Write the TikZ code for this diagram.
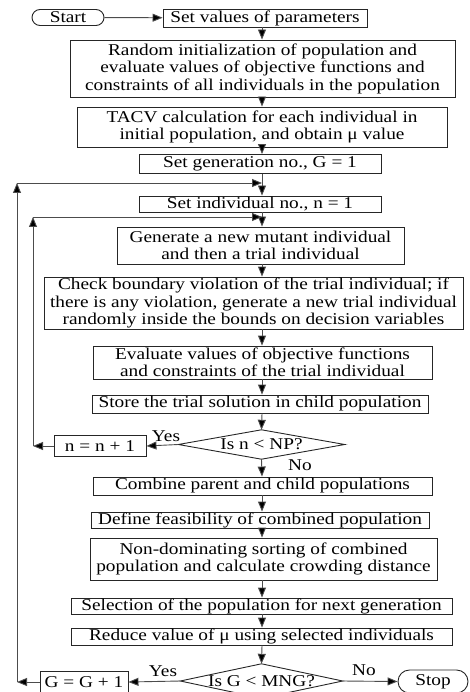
\documentclass[tikz,border=0pt]{standalone}
\usepackage{fontspec}
\setmainfont{Liberation Serif}[FakeStretch=1.17]
\usetikzlibrary{arrows.meta,shapes.misc}
\begin{document}
\begin{tikzpicture}[x=1pt,y=-1pt,
  every node/.style={font=\fontsize{16.5}{17.5}\selectfont},
  box/.style={draw=black!85, line width=0.9pt, inner sep=0pt, align=center},
  term/.style={box, rounded rectangle},
  decision/.style={inner sep=0pt, align=center},
  lbl/.style={inner sep=0pt},
  link/.style={draw=black!70, line width=0.9pt,
    -{Triangle[length=10pt,width=8pt,fill=black]}}]
\useasboundingbox (0,0) rectangle (470,692);
\coordinate (col) at (262,0);

% process steps
\node[term, minimum width=72, minimum height=16] (start) at (68,17.5) {Start};
\node[box, minimum width=204, minimum height=18] (setpar) at (265,18) {Set values of parameters};
\node[box, minimum width=385, minimum height=57] (init) at (262.5,68.5)
  {Random initialization of population and\\evaluate values of objective functions and\\constraints of all individuals in the population};
\node[box, minimum width=370, minimum height=40] (tacv) at (262,127)
  {TACV calculation for each individual in\\initial population, and obtain μ value};
\node[box, minimum width=242, minimum height=19] (setgen) at (260,164) {Set generation no., G = 1};
\node[box, minimum width=242, minimum height=16] (setind) at (260,204) {Set individual no., n = 1};
\node[box, minimum width=287, minimum height=37] (mutant) at (260.5,245.5)
  {Generate a new mutant individual\\and then a trial individual};
\node[box, minimum width=419, minimum height=52] (check) at (253.5,303)
  {Check boundary violation of the trial individual; if\\there is any violation, generate a new trial individual\\randomly inside the bounds on decision variables};
\node[box, minimum width=339, minimum height=33] (evalt) at (262.5,362.5)
  {Evaluate values of objective functions\\and constraints of the trial individual};
\node[box, minimum width=336, minimum height=18] (store) at (260,404) {Store the trial solution in child population};
\node[decision, minimum width=166, minimum height=29] (dec1) at (261.5,444.5) {Is n < NP?};
\node[box, minimum width=92, minimum height=21] (incn) at (100,446) {n = n + 1};
\node[box, minimum width=339, minimum height=18] (combine) at (262.5,486) {Combine parent and child populations};
\node[box, minimum width=338, minimum height=16] (define) at (260,520) {Define feasibility of combined population};
\node[box, minimum width=347, minimum height=42] (nondom) at (263.5,559)
  {Non-dominating sorting of combined\\population and calculate crowding distance};
\node[box, minimum width=381, minimum height=16] (select) at (261.5,606) {Selection of the population for next generation};
\node[box, minimum width=381, minimum height=17] (reduce) at (261.5,636.5) {Reduce value of μ using selected individuals};
\node[decision, minimum width=162, minimum height=34] (dec2) at (261.5,681) {Is G < MNG?};
\node[box, minimum width=88, minimum height=22] (incg) at (84,682) {G = G + 1};
\node[term, minimum width=70, minimum height=23] (stop) at (433,681.5) {Stop};

% decision outlines
\foreach \d in {dec1,dec2}
  \draw[draw=black!85, line width=0.9pt] (\d.north) -- (\d.east) -- (\d.south) -- (\d.west) -- cycle;

% branch labels
\node[lbl] (yes1) at (166,436) {Yes};
\node[lbl] (no1) at (300,465) {No};
\node[lbl] (yes2) at (163,671) {Yes};
\node[lbl] (no2) at (364,670) {No};

% main flow
\draw[link] (start) -- (setpar);
\draw[link] (setpar.south -| col) -- (init.north -| col);
\draw[link] (init.south -| col) -- (tacv.north -| col);
\draw[link] (tacv.south -| col) -- (setgen.north -| col);
\draw[link] (setgen.south -| col) -- (setind.north -| col);
\draw[link] (setind.south -| col) -- (mutant.north -| col);
\draw[link] (mutant.south -| col) -- (check.north -| col);
\draw[link] (check.south -| col) -- (evalt.north -| col);
\draw[link] (evalt.south -| col) -- (store.north -| col);
\draw[link] (store.south -| col) -- (dec1.north);
\draw[link] (dec1.south) -- (combine.north -| col);
\draw[link] (combine.south -| col) -- (define.north -| col);
\draw[link] (define.south -| col) -- (nondom.north -| col);
\draw[link] (nondom.south -| col) -- (select.north -| col);
\draw[link] (select.south -| col) -- (reduce.north -| col);
\draw[link] (reduce.south -| col) -- (dec2.north);
\draw[link] (dec2.east) -- (stop.west);

% individual loop
\coordinate (nc) at (33,217);
\draw[link] (dec1.west) -- (incn.east);
\draw[link] (incn.west) -- (incn.west -| nc);
\draw[link] (incn.west -| nc) -- (nc);
\draw[link] (nc) -- (nc -| col);

% generation loop
\coordinate (gc) at (17,183);
\draw[link] (dec2.west) -- (incg.east);
\draw[link] (incg.west) -- (incg.west -| gc);
\draw[link] (incg.west -| gc) -- (gc);
\draw[link] (gc) -- (gc -| col);
\end{tikzpicture}
\end{document}
